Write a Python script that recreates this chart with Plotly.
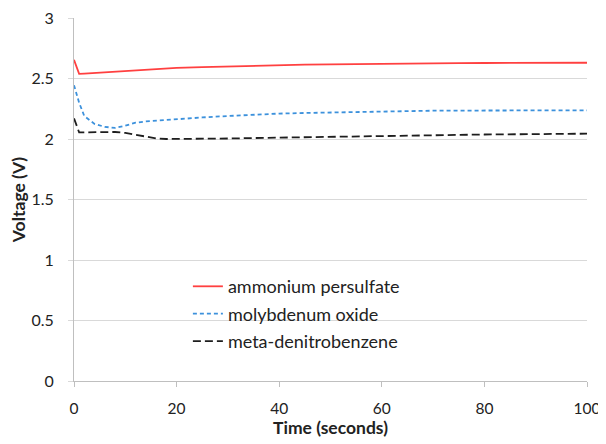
import plotly.graph_objects as go

time_s = [0, 1, 2, 4, 6, 8, 10, 12, 14, 16, 18, 20, 25, 30, 35, 40, 45, 50,
          55, 60, 65, 70, 75, 80, 85, 90, 95, 100]
ammonium = [2.655, 2.538, 2.540, 2.545, 2.550, 2.555, 2.562, 2.568, 2.574, 2.578,
            2.583, 2.587, 2.594, 2.600, 2.606, 2.610, 2.614, 2.617, 2.620, 2.622,
            2.624, 2.626, 2.627, 2.628, 2.629, 2.630, 2.630, 2.630]
molybdenum = [2.445, 2.300, 2.190, 2.125, 2.100, 2.092, 2.110, 2.135, 2.145, 2.152,
              2.158, 2.164, 2.178, 2.190, 2.203, 2.210, 2.215, 2.220, 2.225, 2.228,
              2.232, 2.234, 2.235, 2.236, 2.236, 2.237, 2.237, 2.237]
dinitro = [2.170, 2.055, 2.055, 2.058, 2.060, 2.058, 2.050, 2.035, 2.015, 2.005,
           2.000, 2.000, 2.000, 2.004, 2.008, 2.012, 2.015, 2.018, 2.022, 2.025,
           2.028, 2.031, 2.034, 2.037, 2.039, 2.041, 2.043, 2.044]

names = ["ammonium persulfate", "molybdenum oxide", "meta-denitrobenzene"]
y_ticks = [0, 0.5, 1, 1.5, 2, 2.5, 3]
y_tick_text = ["0", "0.5", "1", "1.5", "2", "2.5", "3"]
x_ticks = [0, 20, 40, 60, 80, 100]

font = "Lato, Open Sans, Liberation Sans, sans-serif"

fig = go.Figure()
fig.add_trace(go.Scatter(x=time_s, y=ammonium, mode="lines", name=names[0],
                         legendgroup="a",
                         line=dict(color="rgb(255,64,64)", width=1.8)))
fig.add_trace(go.Scatter(x=time_s, y=molybdenum, mode="lines", name=names[1],
                         legendgroup="b",
                         line=dict(color="rgb(60,145,220)", width=1.8, dash="4px,3px")))
fig.add_trace(go.Scatter(x=time_s, y=dinitro, mode="lines", name=names[2],
                         legendgroup="c",
                         line=dict(color="rgb(30,30,30)", width=1.8, dash="8px,4px")))

# page body has an 8px default margin, so the figure is drawn 8px in from the window edge
fig.update_layout(
    width=598, height=436,
    margin=dict(l=66, r=19, t=10, b=63),
    paper_bgcolor="white", plot_bgcolor="white",
    font=dict(family=font, size=16, color="#222"),
    showlegend=True,
    legend=dict(x=0.222, y=0.311, xanchor="left", yanchor="top",
                font=dict(size=18, color="#222"), bgcolor="rgba(0,0,0,0)",
                tracegroupgap=1, itemwidth=30),
)
fig.update_xaxes(range=[0, 100], tickvals=x_ticks, showgrid=False, automargin=False,
                 showline=True, linecolor="#bfbfbf", linewidth=1,
                 ticks="outside", ticklen=5, tickcolor="#bfbfbf",
                 tickfont=dict(size=15.5), zeroline=False,
                 ticklabelstandoff=8, ticklabeloverflow="allow",
                 title=dict(text="<b>Time (seconds)</b>", font=dict(size=17.5), standoff=6))
fig.update_yaxes(range=[0, 3], tickvals=y_ticks, ticktext=y_tick_text, automargin=False,
                 showgrid=True, gridcolor="#d9d9d9", gridwidth=1,
                 showline=True, linecolor="#bfbfbf", linewidth=1,
                 ticks="outside", ticklen=5, tickcolor="#d9d9d9",
                 tickfont=dict(size=16), zeroline=False,
                 ticklabelstandoff=11, ticklabeloverflow="allow",
                 title=dict(text="<b>Voltage (V)</b>", font=dict(size=17.5), standoff=5))

fig.write_html("out.html")
